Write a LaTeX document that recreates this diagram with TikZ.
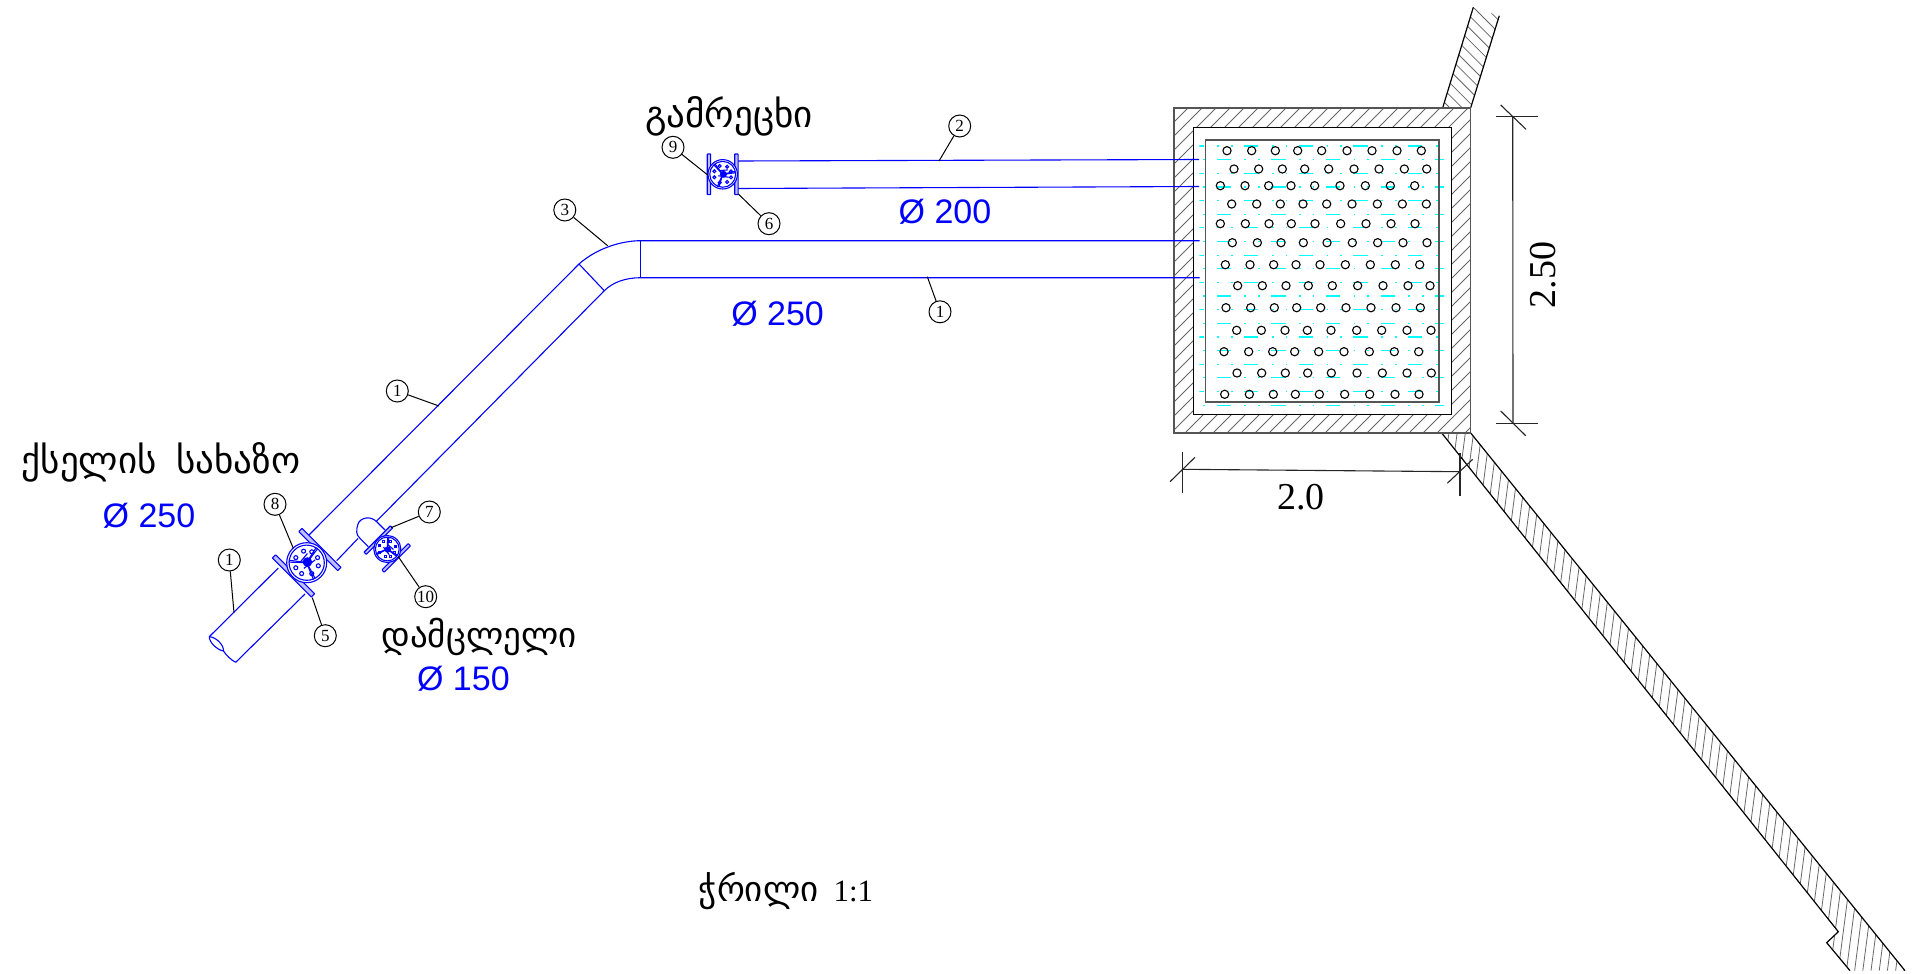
\documentclass[tikz,border=0pt]{standalone}
\usepackage{fontspec}
\setmainfont{Liberation Serif}
\newfontfamily\geofont{DejaVu Sans}
\newfontfamily\arialfont{Liberation Sans}
\definecolor{pipeblue}{HTML}{0000FF}
\definecolor{watercyan}{HTML}{00FFFF}
\definecolor{wallgray}{HTML}{555555}
\tikzset{
  pipe/.style={draw=pipeblue,line width=1.1pt},
  valveline/.style={draw=pipeblue,line width=1.1pt},
  leader/.style={draw=black,line width=1pt},
  callout/.style={circle,draw=black,line width=1pt,fill=white,minimum size=22pt,inner sep=0pt,font=\fontsize{17}{17}\selectfont},
  hatchline/.style={draw=black!60,line width=0.8pt},
  wallline/.style={draw=black,line width=1.2pt},
  boxgray/.style={draw=wallgray,line width=1.4pt},
  boxblack/.style={draw=black,line width=1.3pt},
  dimline/.style={draw=black!85,line width=1.1pt},
  dimtext/.style={font=\fontsize{38}{38}\selectfont,text=black,inner sep=0pt},
  bluetext/.style={font=\arialfont\fontsize{34}{34}\selectfont,text=pipeblue,inner sep=0pt},
  geotext/.style={text=black,inner sep=0pt},
  ball/.style={draw=black,line width=1.1pt},
  water/.style={draw=watercyan,line width=1.2pt}
}
% valve: x, y, rotation, radius
\newcommand{\valvesym}[4]{%
  \begin{scope}[shift={(#1,#2)},rotate=#3,scale=#4]
    \fill[white] (0,0) circle (1);
    \path[valveline,fill=pipeblue!25,rounded corners=0.5pt] (-1.05,-1.38) rectangle (-0.82,1.38);
    \path[valveline,fill=pipeblue!25,rounded corners=0.5pt] (0.82,-1.38) rectangle (1.05,1.38);
    \path[valveline,fill=white] (0,0) circle (1);
    \path[valveline] (0,0) circle (0.88);
    \foreach \a in {20,60,110,160,200,250,300,340}
      \path[valveline] (\a:0.6) circle (0.1);
    \foreach \a in {-10,110,230} {
      \path[valveline] (\a-5:0.15) -- (\a-3:0.9);
      \path[valveline] (\a+5:0.15) -- (\a+3:0.9);
    }
    \fill[pipeblue] (0.05,0) circle (0.24);
    \path[valveline] (-0.3,0.1) -- (0.4,0.2) (-0.2,-0.25) -- (0.35,-0.3);
  \end{scope}}
\begin{document}
\begin{tikzpicture}[x=1pt,y=-1pt]
\useasboundingbox (0,0) rectangle (1917,974);
% ---- upper wall
\begin{scope}
  \clip (1473.3,7.3) -- (1499.3,15.7) -- (1470.7,107.7) -- (1442.7,107.7) -- cycle;
  \foreach \k in {-11,...,1}
    \path[hatchline] ({1466+12.4*\k},0) -- ({1466+12.4*\k+130},130);
\end{scope}
\path[wallline] (1473.3,7.3) -- (1442.7,107.7);
\path[wallline] (1499.3,15.7) -- (1470.7,107.7);
% ---- lower wall
\begin{scope}
  \clip (1441.7,433) -- (1470.7,433) -- (1905,970.7) -- (1850,970.7) -- (1826.7,942.7) -- (1838.3,931.7) -- cycle;
  \foreach \k in {0,...,66}
    \path[hatchline] ({1497+8.2*\k-0.13*420},420) -- ({1497+8.2*\k-0.13*980},980);
\end{scope}
\path[wallline] (1470.7,433) -- (1905,970.7);
\path[wallline] (1441.7,433) -- (1838.3,931.7) -- (1826.7,942.7) -- (1850,970.7);
% ---- tank wall hatch
\begin{scope}
  \clip (1174,108) rectangle (1470.7,433);
  \foreach \k in {0,...,45}
    \path[hatchline] ({1174+14*\k},108) -- ({1174+14*\k-330},438);
\end{scope}
\fill[white] (1193.3,127.3) rectangle (1451.7,414.3);
% ---- water
\begin{scope}
  \clip (1199.3,130) rectangle (1444,412);
  \foreach \r in {0,...,19} {
    \pgfmathsetmacro{\yy}{146+13.64*\r}
    \pgfmathtruncatemacro{\odd}{mod(\r,2)}
    \foreach \k in {-1,...,5} {
      \ifnum\odd=0
        \path[water] ({1160+(88+164*\k)/3},\yy) -- ({1160+(131+164*\k)/3},\yy);
        \path[water] ({1160+(172+164*\k)/3},\yy) -- ++(1.5,0);
        \path[water] ({1160+(213+164*\k)/3},\yy) -- ++(1.5,0);
      \else
        \path[water] ({1160+(170+164*\k)/3},\yy) -- ({1160+(213+164*\k)/3},\yy);
        \path[water] ({1160+(130+164*\k)/3},\yy) -- ++(1.5,0);
        \path[water] ({1160+(253+164*\k)/3},\yy) -- ++(1.5,0);
      \fi
    }
  }
\end{scope}
% ---- tank outlines
\path[boxgray] (1174,108) rectangle (1470.7,433);
\path[boxblack] (1193.3,127.3) rectangle (1451.7,414.3);
\path[boxgray] (1205.7,140) rectangle (1439,402);
% ---- gravel
\foreach \y/\xs in {
  150.7/{201,275,346,413,485,561,636,711,784},
  169/{222,296,367,434,506,582,657,733,800},
  185.7/{181,255,326,393,464,540,616,691,764},
  204/{215,290,361,429,500,576,652,727,799},
  223.7/{181,256,327,394,465,542,618,693,765},
  242.7/{217,292,363,430,501,577,653,729,801},
  264.7/{196,270,341,408,480,556,631,706,779},
  285.7/{233,307,378,445,517,593,669,744,810},
  307.7/{198,272,343,410,482,558,633,708,781},
  330.3/{230,304,375,442,513,590,665,741,813},
  351.7/{192,266,338,404,476,552,628,703,776},
  373/{231,305,376,443,514,591,667,741,814},
  394.3/{194,268,340,406,478,554,629,705,777}} {
  \foreach \z in \xs
    \path[ball] ({1160+\z/3},\y) circle (4.1);
}
% ---- pipes
\path[pipe] (738,161) -- (1199,159.5);
\path[pipe] (738,188.5) -- (1199,186.5);
\path[pipe] (1199.7,240.7) -- (640.7,240.7) .. controls (622,240.7) and (597,248) .. (579,264) -- (309,535);
\path[pipe] (1199.7,277.7) -- (640.7,277.7) .. controls (626,277.7) and (613,282) .. (604.3,290.7) -- (376,521.7);
\path[pipe] (640.7,240.7) -- (640.7,277.7);
\path[pipe] (579,264) -- (604.3,290.7);
\path[pipe] (358,538.5) -- (336.7,560.7);
\path[pipe] (305,594) -- (235.7,662.3);
\path[pipe] (278.3,568) -- (209.3,636.7);
\path[pipe] (209.3,636.7) .. controls (216,637) and (224,645) .. (223.5,651) .. controls (217,650) and (209,642) .. (209.3,636.7);
\path[pipe] (223.5,651) .. controls (226,655) and (231,660) .. (235.7,662.3);
% branch stub
\path[pipe] (376.7,521.7) .. controls (370,515) and (360,518) .. (358,524) .. controls (356,530) and (356,535) .. (360,538.3) -- (368.3,546.7);
\path[pipe] (376.7,521.7) -- (385,530);
% ---- valves
\valvesym{306.7}{562.7}{45}{20}
\valvesym{387.3}{549}{-45}{13.5}
\valvesym{722.7}{174.3}{0}{14.7}
% ---- dimensions
\coordinate (dh1) at (1182.3,469.3);
\coordinate (dh2) at (1460,471.7);
\path[dimline] (dh1) -- (dh2);
\path[dimline] (1182.3,451.7) -- (1182.3,493.3);
\path[dimline] (1460,453) -- (1460,496);
\path[dimline] (1170,481.7) -- (1195,457.3);
\path[dimline] (1447.3,483.3) -- (1472.7,459.3);
\coordinate (dv1) at (1512.7,116.7);
\coordinate (dv2) at (1513,423.3);
\path[dimline] (dv1) -- (dv2);
\path[dimline] (1496,116.7) -- (1538,116.7);
\path[dimline] (1496,423.3) -- (1537.7,423.3);
\path[dimline] (1500.7,105) -- (1526,129.3);
\path[dimline] (1500.7,411) -- (1525.7,435.7);
\node[dimtext] (dimw) at (1301,497) {2.0};
\node[dimtext,rotate=90] (dimh) at (1543,275) {2.50};
% ---- callouts
\coordinate (p8) at (293.3,548.3);
\coordinate (p1a) at (234,612.7);
\coordinate (p7) at (391,527.7);
\coordinate (p10) at (398.3,556.7);
\coordinate (p5) at (312.3,597.7);
\coordinate (p9) at (707.7,175);
\coordinate (p6) at (738.3,194);
\coordinate (p2) at (939,161);
\coordinate (p3) at (607.6,245.7);
\coordinate (p1b) at (439,406);
\coordinate (p1c) at (927.3,276.7);
\node[callout] (c8) at (275,504.3) {8};
\node[callout] (c1a) at (229.3,560) {1};
\node[callout] (c7) at (429.3,512) {7};
\node[callout] (c10) at (425.7,596.7) {10};
\node[callout] (c5) at (325.3,635.7) {5};
\node[callout] (c9) at (673,147.3) {9};
\node[callout] (c6) at (769,223.7) {6};
\node[callout] (c2) at (959.7,126) {2};
\node[callout] (c3) at (564.8,210) {3};
\node[callout] (c1b) at (397.3,391) {1};
\node[callout] (c1c) at (940,311.8) {1};
\path[leader] (c8) -- (p8);
\path[leader] (c1a) -- (p1a);
\path[leader] (c7) -- (p7);
\path[leader] (c10) -- (p10);
\path[leader] (c5) -- (p5);
\path[leader] (c9) -- (p9);
\path[leader] (c6) -- (p6);
\path[leader] (c2) -- (p2);
\path[leader] (c3) -- (p3);
\path[leader] (c1b) -- (p1b);
\path[leader] (c1c) -- (p1c);
% ---- texts
\node[bluetext] (t200) at (945,211.5) {Ø 200};
\node[bluetext] (t250a) at (777.6,314) {Ø 250};
\node[bluetext] (t250b) at (149,516) {Ø 250};
\node[bluetext] (t150) at (463.4,678.5) {Ø 150};
\node[geotext,font=\geofont\fontsize{37}{37}\selectfont] (g1) at (729,116) {გამრეცხი};
\node[geotext,font=\geofont\fontsize{37}{37}\selectfont] (g2) at (161,462) {ქსელის\hspace{8pt} სახაზო};
\node[geotext,font=\geofont\fontsize{35}{35}\selectfont] (g3) at (479,637) {დამცლელი};
\node[geotext,font=\geofont\fontsize{35}{35}\selectfont] (g4) at (786,891) {ჭრილი \hspace{4pt}{\rmfamily\fontsize{31}{31}\selectfont 1:1}};
\end{tikzpicture}
\end{document}
